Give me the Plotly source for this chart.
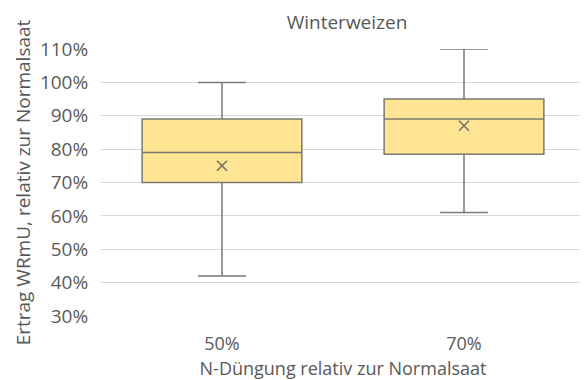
import plotly.graph_objects as go

categories = ["50%", "70%"]
q1 = [0.70, 0.785]
median = [0.79, 0.89]
q3 = [0.89, 0.95]
lower = [0.42, 0.61]
upper = [1.00, 1.10]
mean = [0.75, 0.87]

FONT = "'Open Sans', Lato, sans-serif"
TXT = "#595959"

fig = go.Figure()
fig.add_trace(go.Box(
    x=categories, q1=q1, median=median, q3=q3,
    lowerfence=lower, upperfence=upper,
    fillcolor="#FFE593", line=dict(color="#7a7a70", width=1.5),
    width=0.66, whiskerwidth=0.3, boxpoints=False, showlegend=False,
    hoverinfo="skip",
))
fig.add_trace(go.Scatter(
    x=categories, y=mean, mode="markers",
    marker=dict(symbol="x-thin", size=10, line=dict(color="#6e6e64", width=1.5)),
    showlegend=False, hoverinfo="skip",
))

fig.update_layout(
    width=580, height=372,
    margin=dict(l=93, r=3, t=41, b=64),
    paper_bgcolor="white", plot_bgcolor="white",
    font=dict(family=FONT, color=TXT, size=18),
    title=dict(text="Winterweizen", x=0.5845, xanchor="center", y=0.962, yanchor="middle",
               font=dict(size=19, color=TXT, family=FONT)),
    xaxis=dict(
        type="category", range=[-0.5, 1.5], showgrid=False, showline=False, zeroline=False,
        automargin=False,
        ticks="outside", ticklen=11, tickcolor="rgba(0,0,0,0)",
        title=dict(text="N-Düngung relativ zur Normalsaat", standoff=21,
                   font=dict(size=18, color=TXT)),
        tickfont=dict(size=18, color=TXT),
    ),
    yaxis=dict(
        range=[0.3, 1.1], dtick=0.1, tickformat=".0%", automargin=False,
        showgrid=True, gridcolor="#d9d9d9", gridwidth=1, zeroline=False,
        showline=False, ticks="outside", ticklen=8, tickcolor="rgba(0,0,0,0)",
        title=dict(text="Ertrag WRmU, relativ zur Normalsaat", standoff=4,
                   font=dict(size=19, color=TXT)),
        tickfont=dict(size=19, color=TXT),
    ),
)

fig.write_html("out.html")
